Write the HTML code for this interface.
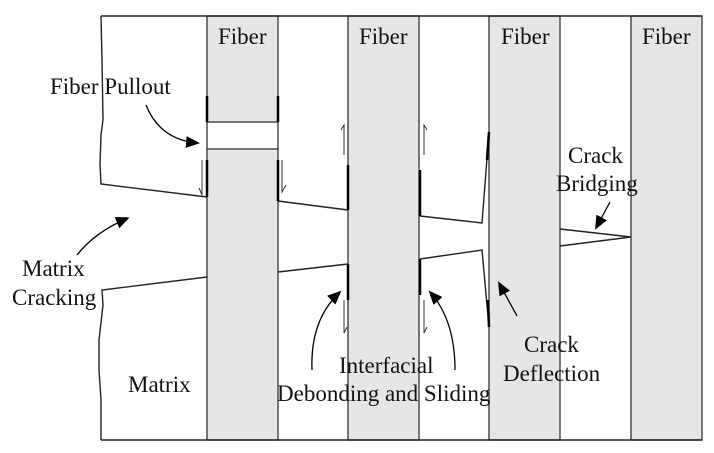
<!DOCTYPE html>
<html><head><meta charset="utf-8"><style>
html,body{margin:0;padding:0;background:#fff;}
svg{display:block;}
text{font-family:"Liberation Serif",serif;fill:#111;}
</style></head><body>
<svg width="714" height="453" viewBox="0 0 714 453" xmlns="http://www.w3.org/2000/svg">
<defs>
<marker id="ah2" markerWidth="14" markerHeight="12" refX="12" refY="6" orient="auto" markerUnits="userSpaceOnUse">
<path d="M0,0 L14,6 L0,12 z" fill="#000"/>
</marker>
</defs>
<g fill="#e6e6e6" stroke="#333" stroke-width="1.3">
<rect x="207" y="16" width="71" height="106"/>
<rect x="207" y="149" width="71" height="291"/>
<rect x="348" y="16" width="71" height="424"/>
<rect x="489" y="16" width="71" height="424"/>
<rect x="631" y="16" width="71" height="424"/>
</g>
<line x1="207" y1="122" x2="207" y2="149" stroke="#333" stroke-width="1.3"/>
<line x1="278" y1="122" x2="278" y2="149" stroke="#333" stroke-width="1.3"/>
<g stroke="#222" stroke-width="1.4" fill="none">
<line x1="101" y1="16" x2="702" y2="16"/>
<line x1="101" y1="440" x2="702" y2="440"/>
<path d="M101,16 L102,60 L103,120 L101,135 L100,165 L101,184 L207,197"/>
<path d="M207,277 L102,290 L103,305 L99,340 L99,370 L101,400 L101,440"/>
<path d="M278,201 L348,210"/>
<path d="M278,272 L348,264"/>
<path d="M420,216 L482,223 L489,132"/>
<path d="M420,259 L482,250 L489,327"/>
<path d="M560,229 L631,237 L560,246"/>
</g>
<g stroke="#000" stroke-width="2.5">
<line x1="207" y1="96" x2="207" y2="122"/>
<line x1="278" y1="96" x2="278" y2="122"/>
<line x1="207" y1="160" x2="207" y2="197"/>
<line x1="278" y1="160" x2="278" y2="201"/>
<line x1="348" y1="165" x2="348" y2="210"/>
<line x1="348" y1="264" x2="348" y2="300"/>
<line x1="420" y1="170" x2="420" y2="216"/>
<line x1="420" y1="259" x2="420" y2="295"/>
<line x1="489" y1="132" x2="487" y2="160"/>
<line x1="489" y1="327" x2="488" y2="300"/>
</g>
<g stroke="#333" stroke-width="1" fill="none">
<path d="M202,160 L202,195 L199,188"/>
<path d="M282,160 L282,192 L286,185"/>
<path d="M344,155 L344,125 L341,130"/>
<path d="M424,155 L424,125 L427,130"/>
<path d="M344,300 L344,333 L347,327"/>
<path d="M424,300 L424,333 L427,327"/>
</g>
<g stroke="#000" stroke-width="1.3" fill="none">
<path d="M146,105 Q160,140 198,143" marker-end="url(#ah2)"/>
<path d="M77,255 Q95,232 128,218" marker-end="url(#ah2)"/>
<path d="M312,370 Q310,320 340,292" marker-end="url(#ah2)"/>
<path d="M455,370 Q455,320 430,292" marker-end="url(#ah2)"/>
<path d="M517,316 L499,283" marker-end="url(#ah2)"/>
<path d="M610,202 L596,228" marker-end="url(#ah2)"/>
</g>
<g font-size="23">
<text x="218" y="44">Fiber</text>
<text x="359" y="44">Fiber</text>
<text x="501" y="44">Fiber</text>
<text x="642" y="44">Fiber</text>
<text x="50" y="94">Fiber Pullout</text>
<text x="22" y="276">Matrix</text>
<text x="12" y="305">Cracking</text>
<text x="128" y="392">Matrix</text>
<text x="339" y="373">Interfacial</text>
<text x="277" y="401">Debonding and Sliding</text>
<text x="524" y="352">Crack</text>
<text x="503" y="381">Deflection</text>
<text x="568" y="163">Crack</text>
<text x="556" y="191">Bridging</text>
</g>
</svg>
</body></html>
